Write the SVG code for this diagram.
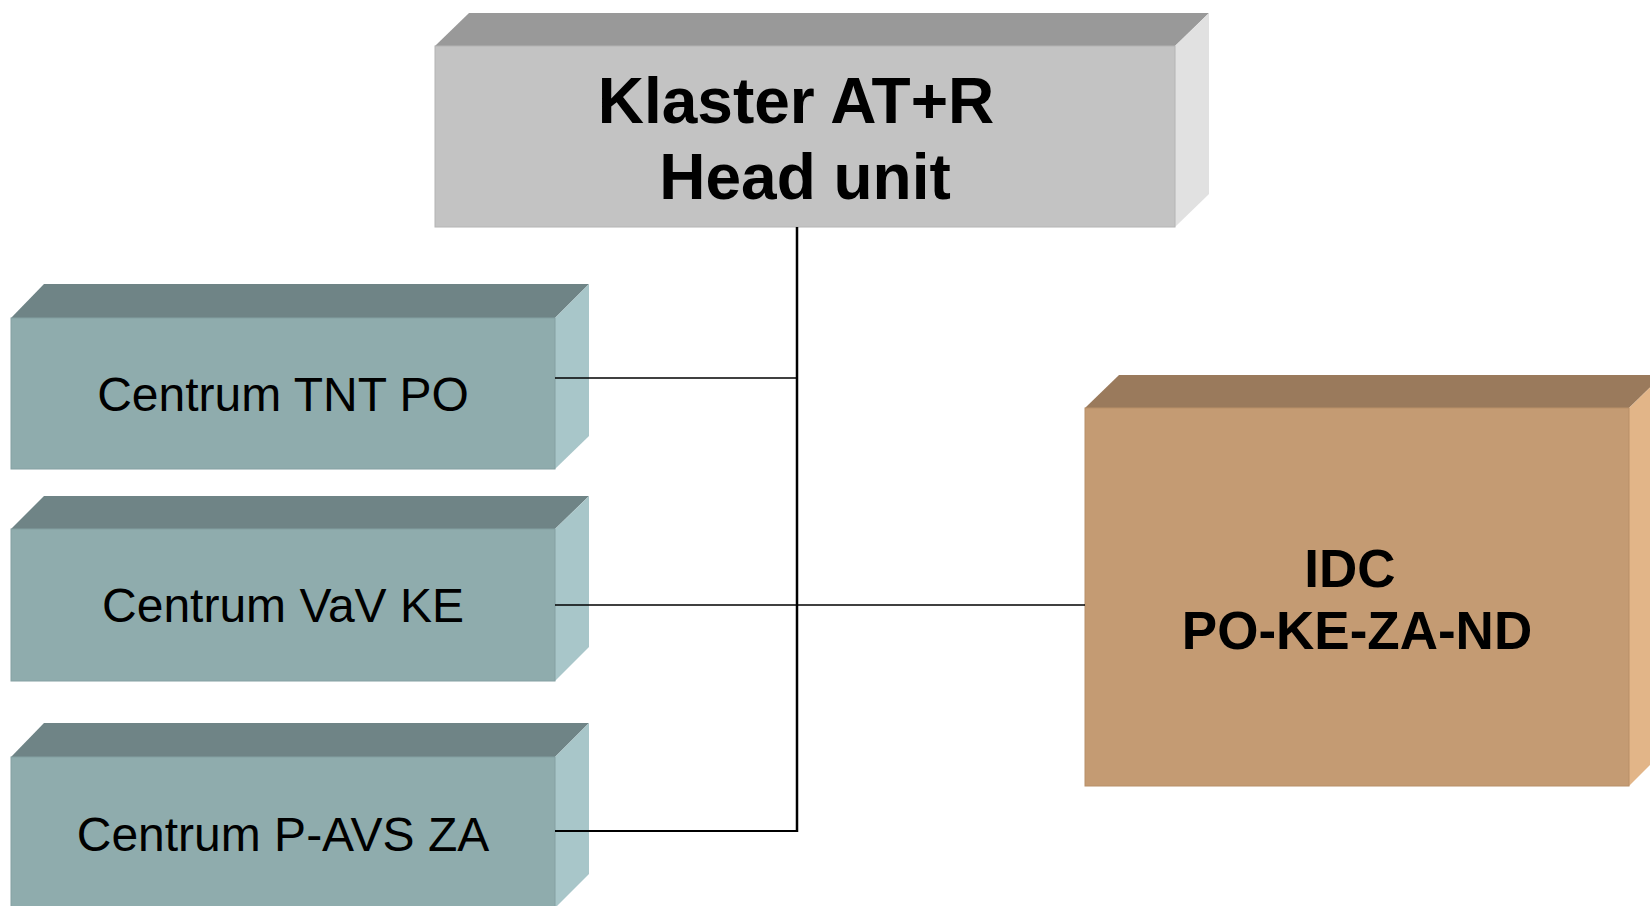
<svg xmlns="http://www.w3.org/2000/svg" width="1650" height="906" viewBox="0 0 1650 906">
  <style>
    .gray-front { fill: #c3c3c3; stroke: #b4b4b4; stroke-width: 1; }
    .gray-top { fill: #999999; }
    .gray-side { fill: #e1e1e1; }
    .teal-front { fill: #8facad; stroke: #84a0a2; stroke-width: 1; }
    .teal-top { fill: #6f8486; }
    .teal-side { fill: #a8c6c9; }
    .tan-front { fill: #c49b73; stroke: #b88f68; stroke-width: 1; }
    .tan-top { fill: #9a7a5c; }
    .tan-side { fill: #e2b588; }
    .bold { font-family: "Liberation Sans", Arial, sans-serif; font-weight: bold; fill: #000; text-anchor: middle; }
    .reg { font-family: "Liberation Sans", Arial, sans-serif; font-size: 48px; fill: #000; text-anchor: middle; }
    .conn { stroke: #000; fill: none; }
  </style>

  <!-- head unit block -->
  <g id="head-unit">
    <polygon class="gray-top" points="435,46 469,13 1209,13 1175,46"/>
    <polygon class="gray-side" points="1175,46 1209,13 1209,194 1175,227"/>
    <rect class="gray-front" x="435" y="46" width="740" height="181"/>
    <text class="bold" font-size="64" x="796" y="123">Klaster AT+R</text>
    <text class="bold" font-size="64" x="805" y="199">Head unit</text>
  </g>

  <!-- centre TNT PO -->
  <g id="centrum-tnt-po">
    <polygon class="teal-top" points="11,318 44,284 589,284 555,318"/>
    <polygon class="teal-side" points="555,318 589,284 589,436 555,469"/>
    <rect class="teal-front" x="11" y="318" width="544" height="151"/>
    <text class="reg" x="283" y="411">Centrum TNT PO</text>
  </g>

  <!-- centre VaV KE -->
  <g id="centrum-vav-ke">
    <polygon class="teal-top" points="11,529 44,496 589,496 555,529"/>
    <polygon class="teal-side" points="555,529 589,496 589,647 555,681"/>
    <rect class="teal-front" x="11" y="529" width="544" height="152"/>
    <text class="reg" x="283" y="622">Centrum VaV KE</text>
  </g>

  <!-- centre P-AVS ZA -->
  <g id="centrum-p-avs-za">
    <polygon class="teal-top" points="11,757 44,723 589,723 555,757"/>
    <polygon class="teal-side" points="555,757 589,723 589,874 555,908"/>
    <rect class="teal-front" x="11" y="757" width="544" height="152"/>
    <text class="reg" x="283" y="851">Centrum P-AVS ZA</text>
  </g>

  <!-- IDC block -->
  <g id="idc">
    <polygon class="tan-top" points="1085,408 1119,375 1663,375 1629,408"/>
    <polygon class="tan-side" points="1629,408 1663,375 1663,752 1629,786"/>
    <rect class="tan-front" x="1085" y="408" width="544" height="378"/>
    <text class="bold" font-size="53" x="1350" y="587">IDC</text>
    <text class="bold" font-size="53" x="1357" y="649">PO-KE-ZA-ND</text>
  </g>

  <!-- connectors: trunk from head unit with branches to each centre,
       drawn last so they run across the side faces of the blocks -->
  <g id="connectors">
    <line class="conn" x1="797" y1="227" x2="797" y2="832" stroke-width="2.5"/>
    <line class="conn" x1="555" y1="378" x2="797" y2="378" stroke-width="1.5"/>
    <line class="conn" x1="555" y1="605" x2="1085" y2="605" stroke-width="1.5"/>
    <line class="conn" x1="555" y1="831" x2="798" y2="831" stroke-width="2"/>
  </g>
</svg>
